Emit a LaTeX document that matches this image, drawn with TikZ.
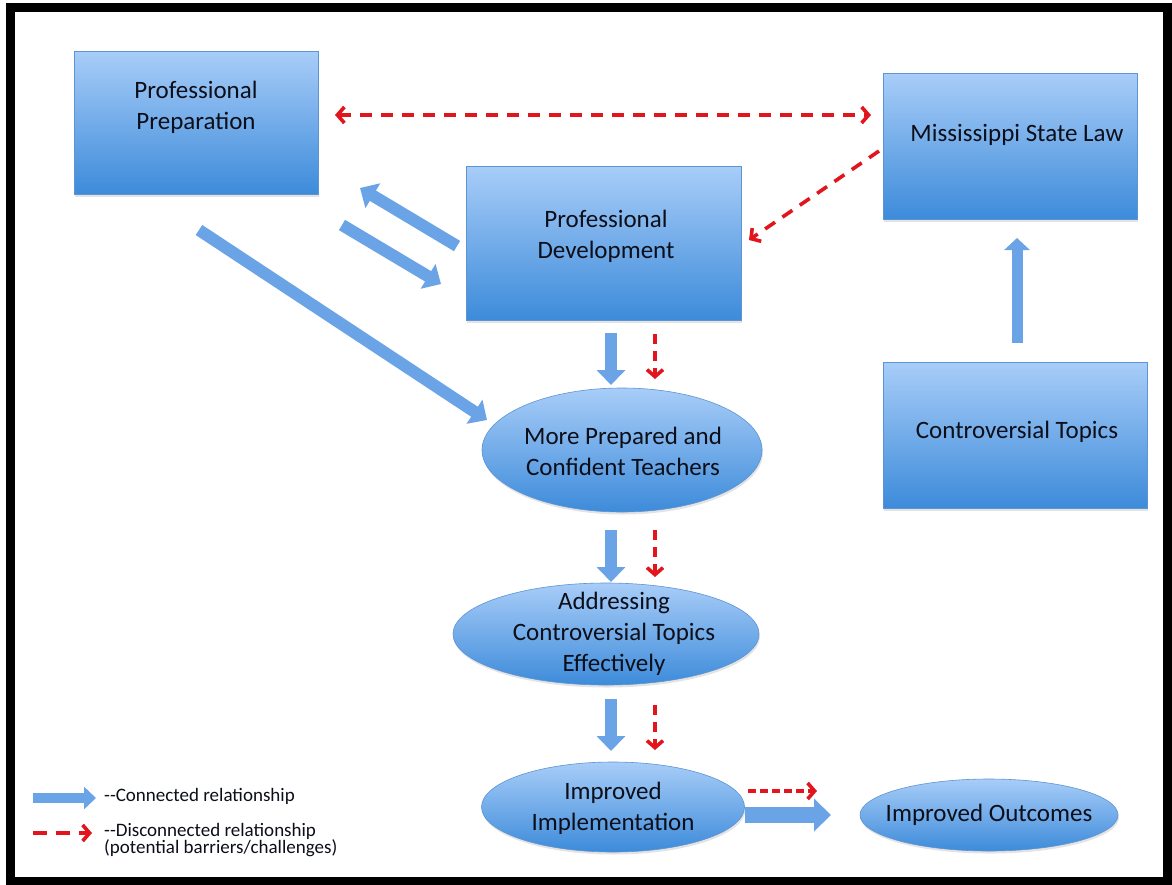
\documentclass[tikz,border=0pt]{standalone}
\usepackage{fontspec}
\setmainfont{Carlito}
\usetikzlibrary{arrows.meta,shapes.geometric,shadows}

\definecolor{boxtop}{HTML}{A8CDF8}
\definecolor{boxbot}{HTML}{3D8BDA}
\definecolor{boxedge}{HTML}{5C94D4}
\definecolor{flowblue}{HTML}{6AA4E6}
\definecolor{barrierred}{HTML}{E3151C}
\definecolor{ink}{HTML}{0C0F1A}

\tikzset{
  box/.style={rectangle, draw=boxedge, line width=0.6pt, inner sep=0pt,
    top color=boxtop, bottom color=boxbot,
    drop shadow={opacity=0.22, shadow xshift=1pt, shadow yshift=-2.5pt}},
  oval/.style={ellipse, draw=boxedge, line width=0.6pt, inner sep=0pt,
    top color=boxtop, bottom color=boxbot,
    drop shadow={opacity=0.22, shadow xshift=1pt, shadow yshift=-2.5pt}},
  txt/.style={font=\fontsize{25}{31}\selectfont, text=ink, align=center, inner sep=0pt},
  legendtxt/.style={font=\fontsize{19}{17}\selectfont, text=ink, align=left, inner sep=0pt, anchor=west},
  flow/.style={draw=flowblue, line width=12pt,
    -{Triangle[width=28pt,length=15pt]}},
  barb/.tip={Straight Barb[length=7pt,width=16pt,line width=3.6pt]},
  barrier/.style={draw=barrierred, line width=3.6pt, dash pattern=on 10pt off 7pt, -barb},
  twoway/.style={barrier, barb-barb}
}

\begin{document}
\begin{tikzpicture}[x=1pt,y=-1pt]
\useasboundingbox (0,0) rectangle (1172,884);
\fill[white] (0,0) rectangle (1172,884);

% outer frame
\draw[line width=9pt, black] (10,7) rectangle (1167,881);

% rectangular stages
\node[box, minimum width=244pt, minimum height=143pt] (pp) at (196,122.5) {};
\node[txt] (pp-t) at (196,107) {Professional\\Preparation};

\node[box, minimum width=254pt, minimum height=146pt] (msl) at (1010,146) {};
\node[txt] (msl-t) at (1017,135) {Mississippi State Law};

\node[box, minimum width=275pt, minimum height=154pt] (pd) at (603.5,243) {};
\node[txt] (pd-t) at (606,236) {Professional\\Development};

\node[box, minimum width=264pt, minimum height=146pt] (ct) at (1015,435) {};
\node[txt] (ct-t) at (1017,432) {Controversial Topics};

% elliptical outcomes
\node[oval, minimum width=280pt, minimum height=124pt] (mpct) at (622,450) {};
\node[txt] (mpct-t) at (623,451) {More Prepared and\\Confident Teachers};

\node[oval, minimum width=306pt, minimum height=102pt] (act) at (606,634) {};
\node[txt] (act-t) at (614,634) {Addressing\\Controversial Topics\\Effectively};

\node[oval, minimum width=263pt, minimum height=90pt] (ii) at (613,807) {};
\node[txt] (ii-t) at (613,808) {Improved\\Implementation};

\node[oval, minimum width=258pt, minimum height=72pt] (io) at (989,815) {};
\node[txt] (io-t) at (989,815) {Improved Outcomes};

% end points of the block arrows
\coordinate (a1s) at (199,230);  \coordinate (a1e) at (487,420);
\coordinate (a2s) at (457,246);  \coordinate (a2e) at (360,188);
\coordinate (a3s) at (342,225);  \coordinate (a3e) at (441,284);
\coordinate (a4s) at (611,333);  \coordinate (a4e) at (611,385);
\coordinate (a5s) at (611,530);  \coordinate (a5e) at (611,582);
\coordinate (a6s) at (611,699);  \coordinate (a6e) at (611,751);
\coordinate (a7s) at (745,815);  \coordinate (a7e) at (831,815);
\coordinate (a8s) at (1017,343); \coordinate (a8e) at (1017,238);

% connected relationships
\draw[flow] (a1s) -- (a1e);
\draw[flow] (a2s) -- (a2e);
\draw[flow] (a3s) -- (a3e);
\draw[flow] (a4s) -- (a4e);
\draw[flow] (a5s) -- (a5e);
\draw[flow] (a6s) -- (a6e);
\draw[flow, line width=16pt, -{Triangle[width=32pt,length=17pt]}] (a7s) -- (a7e);
\draw[flow, line width=11pt, -{Triangle[width=25pt,length=12pt]}] (a8s) -- (a8e);

% end points of the dashed arrows
\coordinate (b1s) at (335,115);  \coordinate (b1e) at (871,115);
\coordinate (b2s) at (879,151);  \coordinate (b2e) at (749,240);
\coordinate (b3s) at (655,334);  \coordinate (b3e) at (655,379);
\coordinate (b4s) at (655,530);  \coordinate (b4e) at (655,577);
\coordinate (b5s) at (655,705);  \coordinate (b5e) at (655,750);
\coordinate (b6s) at (748,791);  \coordinate (b6e) at (817,791);

% disconnected relationships
\draw[twoway, dash pattern=on 12pt off 9pt] (b1s) -- (b1e);
\draw[barrier, dash pattern=on 12pt off 9pt] (b2s) -- (b2e);
\draw[barrier] (b3s) -- (b3e);
\draw[barrier] (b4s) -- (b4e);
\draw[barrier] (b5s) -- (b5e);
\draw[barrier, dash pattern=on 8pt off 4pt] (b6s) -- (b6e);

% legend
\coordinate (l1s) at (33,798); \coordinate (l1e) at (96,798);
\coordinate (l2s) at (33,833); \coordinate (l2e) at (92,833);
\draw[flow, line width=10pt, -{Triangle[width=22pt,length=12pt]}] (l1s) -- (l1e);
\draw[barrier, dash pattern=on 14pt off 9pt] (l2s) -- (l2e);
\node[legendtxt] (leg1) at (104,796) {-{}-Connected relationship};
\node[legendtxt] (leg2) at (104,840) {-{}-Disconnected relationship\\(potential barriers/challenges)};
\end{tikzpicture}
\end{document}
